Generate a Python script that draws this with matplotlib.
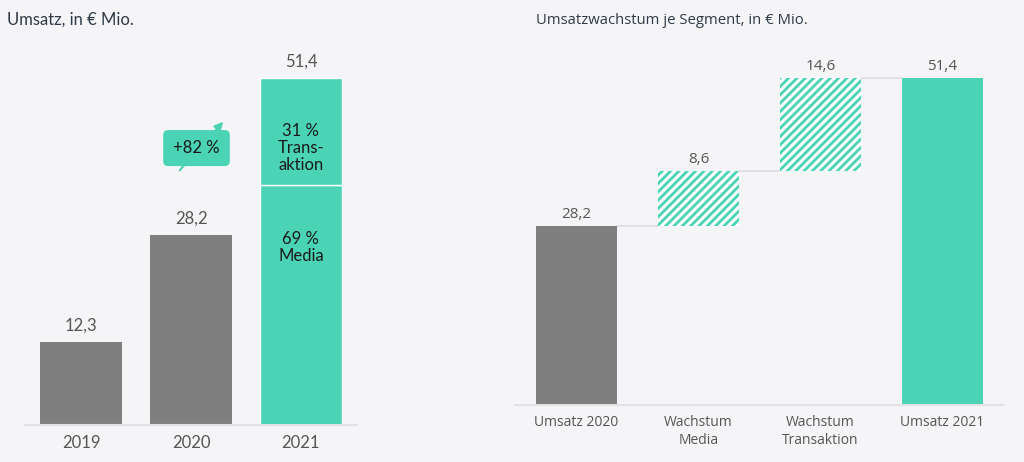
import matplotlib
matplotlib.use("Agg")
import matplotlib.pyplot as plt

# ---------------- data ----------------
years = ["2019", "2020", "2021"]
revenue = [12.3, 28.2, 51.4]
rev_labels = ["12,3", "28,2", "51,4"]
media_2021 = 35.5
trans_2021 = 15.9
seg_labels_2021 = ["69 %\nMedia", "31 %\nTrans-\naktion"]
growth_label = "+82 %"

wf_categories = ["Umsatz 2020", "Wachstum\nMedia", "Wachstum\nTransaktion", "Umsatz 2021"]
wf_values = [28.2, 8.6, 14.6, 51.4]
wf_labels = ["28,2", "8,6", "14,6", "51,4"]

# ---------------- style ----------------
BG = "#F5F5F7"
TEAL = "#4BD3B5"
GRAY = "#7F7F7F"
TXT = "#555555"
TITLE = "#2E3A45"
AXLINE = "#E2E2E6"

plt.rcParams["hatch.linewidth"] = 2.0
W, H = 1024, 462
fig = plt.figure(figsize=(W / 100, H / 100), dpi=100, facecolor=BG)

def px_axes(x0, x1, ytop, ybot):
    return fig.add_axes([x0 / W, 1 - ybot / H, (x1 - x0) / W, (ybot - ytop) / H])

LEFT_FONT = "Lato"
RIGHT_FONT = "Open Sans"

# ---------------- left chart ----------------
ax1 = px_axes(25, 357, 40, 425)
ax1.set_facecolor(BG)
bw1 = 82 / 110
x1 = list(range(len(years)))
ax1.bar(x1[:2], revenue[:2], width=bw1, color=GRAY, zorder=2)
ax1.bar(x1[2], media_2021, width=bw1, color=TEAL, edgecolor="white", linewidth=1.0, zorder=2)
ax1.bar(x1[2], trans_2021, bottom=media_2021, width=bw1, color=TEAL, edgecolor="white",
        linewidth=1.0, zorder=2)
ax1.set_xlim(-0.51, 2.51)
ax1.set_ylim(0, 57.0)
for i, (v, lab) in enumerate(zip(revenue, rev_labels)):
    ax1.annotate(lab, (i, v), xytext=(0, 6), textcoords="offset points", ha="center",
                 va="bottom", fontsize=12, color=TXT, family=LEFT_FONT)
ax1.text(2, 26.3, seg_labels_2021[0], ha="center", va="center", fontsize=12,
         color="#1A1A1A", family=LEFT_FONT, linespacing=1.1, zorder=3)
ax1.text(2, 41.0, seg_labels_2021[1], ha="center", va="center", fontsize=12,
         color="#1A1A1A", family=LEFT_FONT, linespacing=1.1, zorder=3)
# growth arrow + box
ax1.annotate("", xy=(1.31, 45.2), xytext=(0.88, 37.4),
             arrowprops=dict(arrowstyle="-|>,head_length=0.5,head_width=0.25", color=TEAL, lw=1.5),
             zorder=3)
ax1.text(1.05, 41.0, growth_label, ha="center", va="center", fontsize=12, color="#1A1A1A",
         family=LEFT_FONT, zorder=5,
         bbox=dict(boxstyle="round,pad=0.6,rounding_size=0.3", fc=TEAL, ec="none"))
ax1.set_xticks(x1)
ax1.set_xticklabels(years, fontsize=12, color=TXT, family=LEFT_FONT)
ax1.tick_params(axis="x", length=0, pad=7)
ax1.set_yticks([])
for s in ["top", "right", "left"]:
    ax1.spines[s].set_visible(False)
ax1.spines["bottom"].set_color(AXLINE)
ax1.spines["bottom"].set_linewidth(1.5)

fig.text(7 / W, 1 - 20 / H, "Umsatz, in € Mio.", fontsize=12, color=TITLE,
         family=LEFT_FONT, va="center", ha="left")

# ---------------- right chart (waterfall) ----------------
ax2 = px_axes(515, 1003, 40, 405)
ax2.set_facecolor(BG)
bw2 = 81 / 122
x2 = list(range(len(wf_categories)))
bottoms = [0, wf_values[0], wf_values[0] + wf_values[1], 0]
tops = [b + v for b, v in zip(bottoms, wf_values)]
ax2.bar(x2[0], wf_values[0], width=bw2, color=GRAY, zorder=2)
ax2.bar(x2[3], wf_values[3], width=bw2, color=TEAL, zorder=2)
for i in (1, 2):
    ax2.bar(x2[i], wf_values[i], bottom=bottoms[i], width=bw2, color="white",
            edgecolor=TEAL, hatch="////", linewidth=0, zorder=2)
for i in range(3):
    ax2.hlines(tops[i], i + bw2 / 2, i + 1 - bw2 / 2, color="#DCDCDF", lw=1.2, zorder=1)
for i, lab in enumerate(wf_labels):
    ax2.annotate(lab, (i, tops[i]), xytext=(0, 3), textcoords="offset points", ha="center",
                 va="bottom", fontsize=11, color=TXT, family=RIGHT_FONT)
ax2.set_xlim(-0.504, 3.496)
ax2.set_ylim(0, 57.4)
ax2.set_xticks(x2)
ax2.set_xticklabels(wf_categories, fontsize=10, color=TXT, family=RIGHT_FONT, linespacing=1.3)
ax2.tick_params(axis="x", length=0, pad=7)
ax2.set_yticks([])
for s in ["top", "right", "left"]:
    ax2.spines[s].set_visible(False)
ax2.spines["bottom"].set_color(AXLINE)
ax2.spines["bottom"].set_linewidth(1.5)

fig.text(536 / W, 1 - 20 / H, "Umsatzwachstum je Segment, in € Mio.", fontsize=10.7,
         color=TITLE, family=RIGHT_FONT, va="center", ha="left")

fig.savefig("out.png", dpi=100, facecolor=BG)
